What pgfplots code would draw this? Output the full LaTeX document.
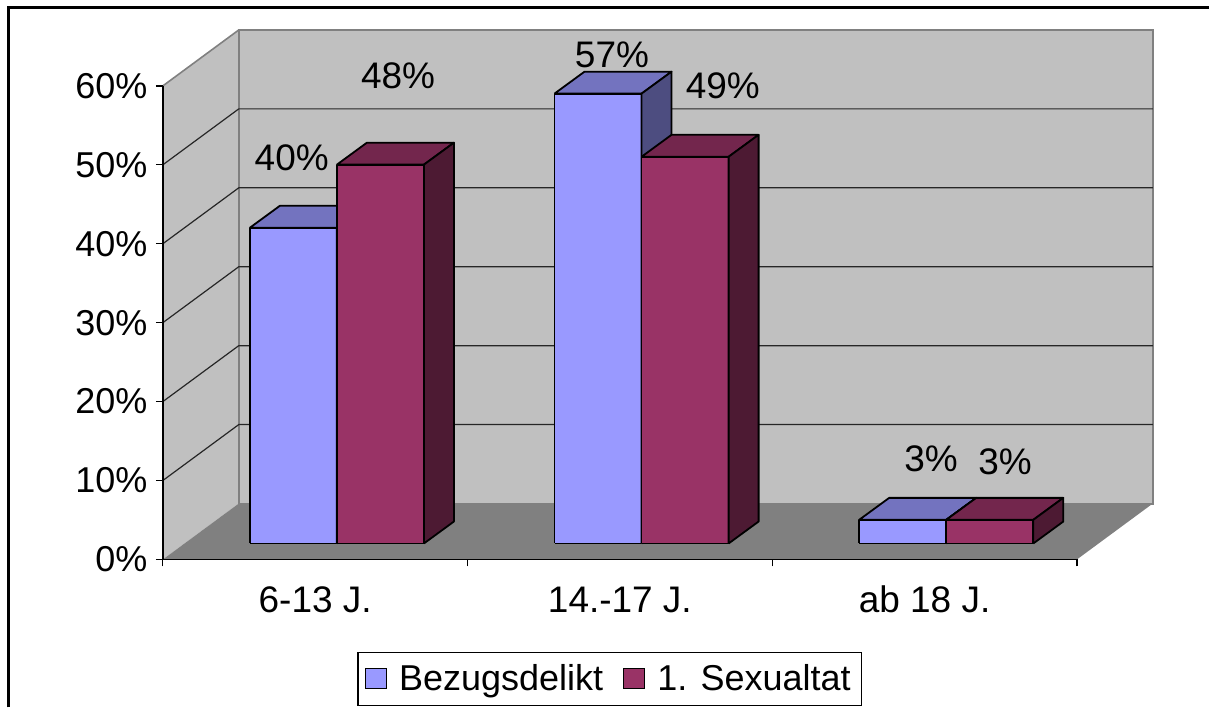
\documentclass[border=0pt]{standalone}
\usepackage{pgfplots}
\pgfplotsset{compat=1.18}
\usepackage{pgfplotstable}
\usepackage{fontspec}
\setmainfont{Liberation Sans}

\definecolor{wall}{HTML}{C0C0C0}
\definecolor{floorc}{HTML}{808080}
\definecolor{bF}{HTML}{9999FF}
\definecolor{bT}{HTML}{7373BF}
\definecolor{bS}{HTML}{4D4D80}
\definecolor{rF}{HTML}{993366}
\definecolor{rT}{HTML}{73264D}
\definecolor{rS}{HTML}{4D1A33}

\pgfplotstableread{
k b s
0 40 48
1 57 49
2 3 3
}\datatable

% geometry of the oblique projection (axis units)
\def\dX{0.2492}\def\dY{7.089}   % full depth of the box
\def\bX{0.0712}\def\bY{2.025}   % offset of the bars' front plane
\def\ddX{0.0984}\def\ddY{2.78}  % depth of a bar
\pgfmathsetmacro\topY{60+\dY}
\pgfmathsetmacro\rX{3+\dX}

\newcommand{\lblfont}{\fontsize{18.5}{21}\selectfont}
\newcommand{\ylblfont}{\fontsize{18}{21}\selectfont}

\pgfplotsset{barface/.style={forget plot,draw=black,line width=0.9pt,line join=round,mark=none}}

\newcommand{\drawbar}[6]{%
 \pgfmathsetmacro\xl{#1+\bX}%
 \pgfmathsetmacro\xr{#2+\bX}%
 \pgfmathsetmacro\yb{\bY}%
 \pgfmathsetmacro\yt{#3+\bY}%
 \pgfmathsetmacro\xlb{\xl+\ddX}%
 \pgfmathsetmacro\xrb{\xr+\ddX}%
 \pgfmathsetmacro\ybb{\yb+\ddY}%
 \pgfmathsetmacro\ytb{\yt+\ddY}%
 \addplot[barface,fill=#4] coordinates {(\xl,\yb) (\xr,\yb) (\xr,\yt) (\xl,\yt) (\xl,\yb)};
 \addplot[barface,fill=#5] coordinates {(\xl,\yt) (\xr,\yt) (\xrb,\ytb) (\xlb,\ytb) (\xl,\yt)};
 \addplot[barface,fill=#6] coordinates {(\xr,\yb) (\xrb,\ybb) (\xrb,\ytb) (\xr,\yt) (\xr,\yb)};
}

\begin{document}
\begin{tikzpicture}
\begin{axis}[
  x=152.5pt, y=3.95pt,
  xmin=0, xmax=3, ymin=0, ymax=60,
  clip=false,
  axis lines*=left,
  axis on top,
  axis line style={black,line width=0.8pt},
  xtick={0,1,2,3},
  xticklabels={6-13 J.,14.-17 J.,ab 18 J.},
  x tick label as interval,
  ytick={0,10,20,30,40,50,60},
  yticklabels={0\%,10\%,20\%,30\%,40\%,50\%,60\%},
  tick align=outside,
  major tick length=3.5pt,
  tick style={black,line width=0.6pt},
  xticklabel style={font=\lblfont, inner sep=0pt, text height=0.72em, text depth=0pt, yshift=-15.5pt},
  yticklabel style={font=\ylblfont, inner sep=0pt, xshift=-4pt},
  legend columns=2,
  legend style={at={(0.489,-0.252)}, anchor=center, draw=black, line width=0.6pt,
    font=\ylblfont, inner xsep=3.5pt, inner ysep=4pt,
    /tikz/every odd column/.append style={column sep=4pt},
    /tikz/every even column/.append style={column sep=8pt}},
  legend image code/.code={\draw[#1,draw=black,line width=0.6pt] (0pt,-5pt) rectangle (10.5pt,5pt);},
]
% bounding box and outer frame
\path (axis cs:-0.53443,70.886) rectangle (axis cs:3.43279,-18.734);
\draw[black,line width=1.2pt] (axis cs:-0.5066,-18.734) -- (axis cs:-0.5066,69.937) -- (axis cs:3.43279,69.937);

% walls and floor
\addplot[forget plot,fill=wall,draw=none] coordinates {(0,0) (\dX,\dY) (\dX,\topY) (0,60) (0,0)};
\addplot[forget plot,fill=wall,draw=floorc,line width=1pt] coordinates {(\dX,\dY) (\rX,\dY) (\rX,\topY) (\dX,\topY) (\dX,\dY)};
\addplot[forget plot,draw=floorc,line width=0.8pt] coordinates {(0,60) (\dX,\topY)};
\pgfplotsinvokeforeach{10,20,30,40,50}{%
  \pgfmathsetmacro\gy{#1+\dY}%
  \addplot[forget plot,draw=black!85,line width=0.6pt,mark=none] coordinates {(0,#1) (\dX,\gy) (\rX,\gy)};
}
\addplot[forget plot,fill=floorc,draw=none] coordinates {(0,0) (3,0) (\rX,\dY) (\dX,\dY) (0,0)};

% bars
\pgfplotsinvokeforeach{0,1,2}{%
  \pgfplotstablegetelem{#1}{b}\of\datatable \let\vb\pgfplotsretval
  \pgfplotstablegetelem{#1}{s}\of\datatable \let\vs\pgfplotsretval
  \pgfmathsetmacro\xa{#1+0.2143}%
  \pgfmathsetmacro\xm{#1+0.5}%
  \pgfmathsetmacro\xc{#1+0.7857}%
  \drawbar{\xa}{\xm}{\vb}{bF}{bT}{bS}
  \drawbar{\xm}{\xc}{\vs}{rF}{rT}{rS}
}

% data labels
\begin{scope}[every node/.style={font=\lblfont, inner sep=0pt}]
\node at (axis cs:0.423,50.9) {40\%};
\node at (axis cs:0.772,61.3) {48\%};
\node at (axis cs:1.474,63.9) {57\%};
\node at (axis cs:1.838,60.06) {49\%};
\node at (axis cs:2.521,12.78) {3\%};
\node at (axis cs:2.764,12.34) {3\%};
\end{scope}

\addlegendimage{fill=bF}
\addlegendentry{Bezugsdelikt}
\addlegendimage{fill=rF}
\addlegendentry{1. Sexualtat}
\end{axis}
\end{tikzpicture}
\end{document}
